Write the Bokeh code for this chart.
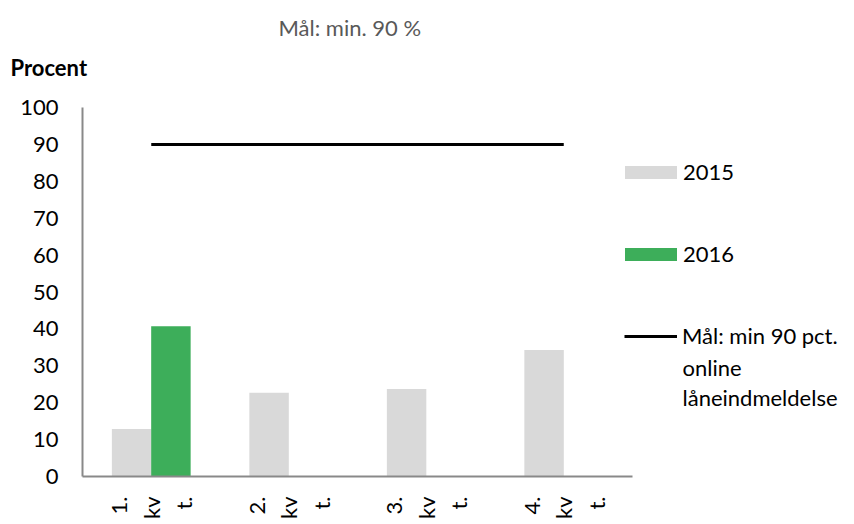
import math

import numpy as np
from bokeh.embed import file_html
from bokeh.models import (ColumnDataSource, FixedTicker, Label, Legend,
                          LegendItem, Range1d, Title)
from bokeh.plotting import figure
from bokeh.resources import INLINE
from bokeh.transform import dodge

# --- data -------------------------------------------------------------
quarters = ["1. kvt.", "2. kvt.", "3. kvt.", "4. kvt."]
quarter_labels = ["1.\nkv\nt.", "2.\nkv\nt.", "3.\nkv\nt.", "4.\nkv\nt."]
share_2015 = [12.9, 22.7, 23.7, 34.3]
share_2016 = [40.7, float("nan"), float("nan"), float("nan")]
target = [90, 90, 90, 90]
y_ticks = [0, 10, 20, 30, 40, 50, 60, 70, 80, 90, 100]

FONT = "Lato"
SIZE = "22px"

# one unit per quarter; the plot area runs on past the last quarter so the
# legend has room on the right, while the x axis line stops after quarter 4
slot = np.arange(len(quarters)) + 0.5
PLOT_W, PLOT_H = 854, 524
LEFT, TOP, BOTTOM = 82, 107, 48
UNIT_PX = 137.5

source = ColumnDataSource(dict(
    x=slot,
    q=quarters,
    y2015=np.array(share_2015, dtype=float),
    y2016=np.array(share_2016, dtype=float),
    target=np.array(target, dtype=float),
))

p = figure(
    x_range=Range1d(0, (PLOT_W - LEFT) / UNIT_PX),
    y_range=Range1d(0, 100),
    width=PLOT_W, height=PLOT_H,
    output_backend="svg", toolbar_location=None,
    min_border_left=LEFT, min_border_right=0,
    min_border_top=TOP, min_border_bottom=BOTTOM,
)
p.outline_line_color = None
p.xgrid.visible = False
p.ygrid.visible = False

# --- axes -------------------------------------------------------------
for ax in (p.xaxis[0], p.yaxis[0]):
    ax.axis_line_color = "#898989"
    ax.axis_line_width = 2
    ax.major_tick_line_color = None
    ax.minor_tick_line_color = None
    ax.major_tick_out = 0
    ax.major_tick_in = 0
    ax.minor_tick_out = 0
    ax.minor_tick_in = 0
    ax.major_label_text_font = FONT
    ax.major_label_text_font_size = SIZE
    ax.major_label_text_color = "black"

p.yaxis.ticker = FixedTicker(ticks=y_ticks)
p.yaxis.major_label_standoff = 24

p.xaxis.ticker = FixedTicker(ticks=list(slot))
p.xaxis.bounds = (0, len(quarters))
p.xaxis.major_label_overrides = {float(x): lab for x, lab in zip(slot, quarter_labels)}
p.xaxis.major_label_orientation = math.pi / 2
p.xaxis.major_label_standoff = 20

# --- marks ------------------------------------------------------------
r15 = p.vbar(x=dodge("x", -0.143), top="y2015", width=0.287,
             source=source, fill_color="#D9D9D9", line_color=None)
r16 = p.vbar(x=dodge("x", 0.143), top="y2016", width=0.287,
             source=source, fill_color="#3DAE5A", line_color=None)
rt = p.line(x="x", y="target", source=source, line_color="black", line_width=3)

# --- legend -----------------------------------------------------------
legend_style = dict(
    padding=0, margin=0, border_line_color=None, background_fill_alpha=0,
    label_text_font=FONT, label_text_font_size=SIZE, label_height=16,
    label_text_color="black", glyph_height=16,
)
p.add_layout(Legend(
    items=[LegendItem(label="2015", renderers=[r15]),
           LegendItem(label="2016", renderers=[r16])],
    location=(536, 209), glyph_width=65, label_standoff=0, spacing=55,
    **legend_style,
))
p.add_layout(Legend(
    items=[LegendItem(label="Mål: min 90 pct.", renderers=[rt])],
    location=(542, 127), glyph_width=53, label_standoff=5,
    **legend_style,
))

label_style = dict(x_units="screen", y_units="screen", text_font=FONT,
                   text_font_size=SIZE, text_baseline="middle",
                   text_color="black")
p.add_layout(Label(x=600, y=109, text="online", **label_style))
p.add_layout(Label(x=600, y=79, text="låneindmeldelse", **label_style))

# --- titles (the first one added sits closest to the plot) --------------
p.add_layout(Title(text="Procent", align="left", offset=-72, standoff=50,
                   vertical_align="top",
                   text_font=FONT, text_font_size=SIZE, text_font_style="bold",
                   text_color="black"), "above")
p.add_layout(Title(text="Mål: min. 90 %", align="left", offset=196, standoff=-24,
                   text_font=FONT, text_font_size=SIZE, text_font_style="normal",
                   text_color="#595959"), "above")

open("out.html", "w").write(file_html(p, INLINE))
